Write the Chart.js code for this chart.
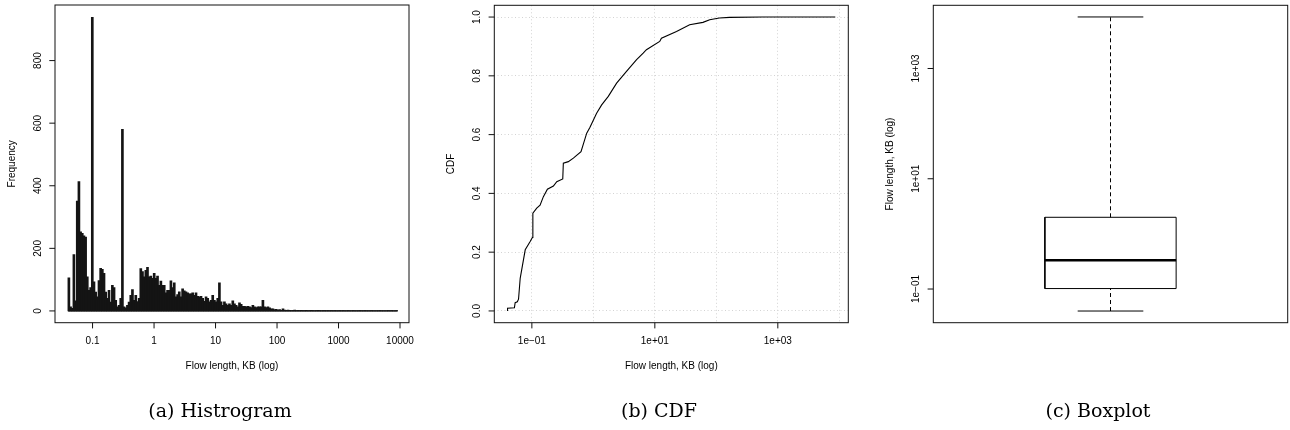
<!DOCTYPE html>
<html>
<head>
<meta charset="utf-8">
<title>Flow length distribution</title>
<script src="https://cdn.jsdelivr.net/npm/chart.js@4.4.1/dist/chart.umd.min.js"></script>
<style>
  body { margin: 0; background: #fff; }
  #wrap { position: relative; width: 1290px; height: 430px; overflow: hidden; }
  #wrap canvas { position: absolute; top: 0; }
  .caption {
    position: absolute; top: 399px; line-height: 22px;
    font-family: "DejaVu Serif", "Liberation Serif", serif; font-size: 19px;
    color: #000; white-space: nowrap; transform: translateX(-50%);
  }
</style>
</head>
<body>
<div id="wrap">
  <canvas id="histChart" width="430" height="430" style="left:0"></canvas>
  <canvas id="cdfChart" width="430" height="430" style="left:430px"></canvas>
  <canvas id="boxChart" width="430" height="430" style="left:860px"></canvas>
  <div class="caption" style="left:220px">(a) Histrogram</div>
  <div class="caption" style="left:659px">(b) CDF</div>
  <div class="caption" style="left:1098px">(c) Boxplot</div>
</div>
<script>
// histogram bins, log10(KB): centre of the first bin and bin width
const binStart = -1.385;
const binWidth = 0.0272;
const histCounts = [
  106, 13, 8, 180, 32, 351, 413, 253, 248, 240, 236, 109, 66, 75, 938, 93, 60, 45, 97, 136,
  133, 120, 60, 40, 66, 28, 82, 75, 34, 13, 18, 40, 580, 13, 10, 18, 28, 50, 68, 34,
  50, 30, 40, 135, 126, 109, 130, 139, 109, 111, 104, 120, 104, 111, 82, 95, 82, 82, 58, 66,
  66, 96, 75, 90, 45, 52, 61, 45, 71, 64, 61, 58, 55, 55, 58, 50, 58, 47, 45, 47,
  40, 31, 45, 40, 29, 34, 50, 34, 29, 40, 90, 29, 18, 29, 23, 18, 23, 18, 32, 23,
  18, 13, 26, 21, 15, 15, 13, 15, 13, 11, 18, 13, 11, 13, 13, 13, 34, 13, 11, 13,
  10, 7, 7, 4, 5, 3, 4, 2, 7, 3, 2, 3, 2, 1, 2, 3, 1, 2, 1, 2,
  1, 1, 2, 0, 1, 2, 1, 0, 1, 2, 1, 0, 1, 1, 0, 1, 0, 1, 0, 1,
  0, 0, 1, 0, 1, 0, 0, 1, 0, 0, 1, 0, 0, 0, 1, 0, 0, 1, 0, 0,
  0, 1, 0, 0, 0, 0, 1, 0, 0, 0, 0, 1, 0, 1, 0, 0, 1
];
const histTicks = [0.1, 1, 10, 100, 1000, 10000];
const freqTicks = [0, 200, 400, 600, 800];

// empirical CDF of flow length (KB)
const cdfLength = [
  0.0402, 0.0402, 0.052, 0.0535, 0.058, 0.0607, 0.0646, 0.078, 0.0938, 0.102,
  0.1038, 0.12, 0.136, 0.154, 0.179, 0.224, 0.254, 0.318, 0.325, 0.392,
  0.473, 0.63, 0.78, 0.882, 1.13, 1.365, 1.75, 2.39, 3.46, 5.05,
  6.46, 7.3, 12.0, 12.8, 22.5, 36.8, 60.6, 78, 112, 164,
  570, 8600
];
const cdfValue = [
  0.0, 0.009, 0.011, 0.028, 0.031, 0.04, 0.111, 0.208, 0.236, 0.25,
  0.333, 0.35, 0.36, 0.389, 0.414, 0.425, 0.44, 0.449, 0.503, 0.508,
  0.52, 0.542, 0.605, 0.625, 0.673, 0.701, 0.73, 0.775, 0.815, 0.855,
  0.877, 0.889, 0.917, 0.928, 0.951, 0.974, 0.982, 0.991, 0.997, 0.999,
  1.0, 1.0
];
const cdfTicks = [0.1, 10, 1000];
const cdfGrid = [0.1, 1, 10, 100, 1000, 10000];
const probTicks = [0, 0.2, 0.4, 0.6, 0.8, 1.0];

// boxplot: min, Q1, median, Q3, max (KB)
const boxStats = [0.0399, 0.102, 0.332, 2.0, 8600];
const boxTicks = [0.1, 10, 1000];

const axisMin = 0.0245;
const axisMax = 14000;
const boxHalf = 0.2;
const capHalf = 0.1;

const axisFont = '10px "Liberation Sans", Arial, sans-serif';

function sciLabel(v) {
  const e = Math.round(Math.log10(v));
  const pad = String(Math.abs(e)).padStart(2, '0');
  return '1e' + (e < 0 ? '\u2212' : '+') + pad;
}

// R-style frame, tick marks and labels drawn from the chart's scales
function rAxes(cfg) {
  return {
    id: 'rAxes',
    afterDraw(chart) {
      const ctx = chart.ctx;
      const area = chart.chartArea;
      const xs = chart.scales.x;
      const ys = chart.scales.y;
      ctx.save();
      ctx.strokeStyle = '#111';
      ctx.lineWidth = 1;
      ctx.strokeRect(area.left, area.top, area.right - area.left, area.bottom - area.top);
      ctx.fillStyle = '#000';
      ctx.font = axisFont;
      ctx.textAlign = 'center';
      ctx.textBaseline = 'middle';

      (cfg.xTicks || []).forEach((v) => {
        const px = xs.getPixelForValue(v);
        ctx.beginPath();
        ctx.moveTo(px, area.bottom);
        ctx.lineTo(px, area.bottom + 5.7);
        ctx.stroke();
        ctx.fillText(cfg.xLabel(v), px, area.bottom + 19);
      });
      if (cfg.xTitle) {
        ctx.fillText(cfg.xTitle, (area.left + area.right) / 2, area.bottom + 44);
      }

      cfg.yTicks.forEach((v) => {
        const py = ys.getPixelForValue(v);
        ctx.beginPath();
        ctx.moveTo(area.left, py);
        ctx.lineTo(area.left - 5.7, py);
        ctx.stroke();
        ctx.save();
        ctx.translate(area.left - 17.2, py);
        ctx.rotate(-Math.PI / 2);
        ctx.fillText(cfg.yLabel(v), 0, 0);
        ctx.restore();
      });
      ctx.save();
      ctx.translate(area.left - 42.7, (area.top + area.bottom) / 2);
      ctx.rotate(-Math.PI / 2);
      ctx.fillText(cfg.yTitle, 0, 0);
      ctx.restore();
      ctx.restore();
    }
  };
}

const baseOptions = {
  responsive: false,
  animation: false,
  events: [],
  plugins: { legend: { display: false }, tooltip: { enabled: false } }
};

// (a) histogram
const binCentres = histCounts.map((_, i) => Math.pow(10, binStart + i * binWidth));
const binLow = Math.pow(10, binStart - binWidth / 2);
const binHigh = Math.pow(10, binStart + (histCounts.length - 0.5) * binWidth);

new Chart(document.getElementById('histChart'), {
  type: 'bar',
  data: {
    datasets: [{
      data: histCounts.map((c, i) => ({ x: binCentres[i], y: c })),
      backgroundColor: '#141414',
      borderWidth: 0,
      barThickness: 2
    }, {
      type: 'line',
      data: [{ x: binLow, y: 0 }, { x: binHigh, y: 0 }],
      borderColor: '#000',
      borderWidth: 1.2,
      pointRadius: 0
    }]
  },
  options: {
    ...baseOptions,
    layout: { padding: { left: 55, right: 21, top: 5, bottom: 107.3 } },
    scales: {
      x: { type: 'logarithmic', display: false, offset: false, min: axisMin, max: axisMax },
      y: { type: 'linear', display: false, min: -37.6, max: 977.6 }
    }
  },
  plugins: [rAxes({
    xTicks: histTicks, xLabel: (v) => String(v), xTitle: 'Flow length, KB (log)',
    yTicks: freqTicks, yLabel: (v) => String(v), yTitle: 'Frequency'
  })]
});

// (b) CDF
new Chart(document.getElementById('cdfChart'), {
  type: 'scatter',
  data: {
    datasets: [{
      data: cdfLength.map((v, i) => ({ x: v, y: cdfValue[i] })),
      showLine: true,
      borderColor: '#000',
      borderWidth: 1.1,
      pointRadius: 0,
      tension: 0
    }]
  },
  options: {
    ...baseOptions,
    layout: { padding: { left: 64.3, right: 11.7, top: 5.3, bottom: 107.3 } },
    scales: {
      x: {
        type: 'logarithmic', min: axisMin, max: axisMax,
        afterBuildTicks: (s) => { s.ticks = cdfGrid.map((v) => ({ value: v })); },
        ticks: { display: false },
        grid: { color: '#d3d3d3', lineWidth: 1, drawTicks: false },
        border: { display: false, dash: [1, 2.5] }
      },
      y: {
        type: 'linear', min: -0.04, max: 1.04,
        afterBuildTicks: (s) => { s.ticks = probTicks.map((v) => ({ value: v })); },
        ticks: { display: false },
        grid: { color: '#d3d3d3', lineWidth: 1, drawTicks: false },
        border: { display: false, dash: [1, 2.5] }
      }
    }
  },
  plugins: [rAxes({
    xTicks: cdfTicks, xLabel: sciLabel, xTitle: 'Flow length, KB (log)',
    yTicks: probTicks, yLabel: (v) => v.toFixed(1), yTitle: 'CDF'
  })]
});

// (c) boxplot
const [bMin, bQ1, bMed, bQ3, bMax] = boxStats;
function seg(points, width, dash) {
  return {
    data: points.map(([x, y]) => ({ x, y })),
    showLine: true,
    borderColor: '#000',
    borderWidth: width,
    borderDash: dash || [],
    pointRadius: 0,
    tension: 0
  };
}

new Chart(document.getElementById('boxChart'), {
  type: 'scatter',
  data: {
    datasets: [
      seg([[1 - boxHalf, bQ1], [1 + boxHalf, bQ1], [1 + boxHalf, bQ3], [1 - boxHalf, bQ3], [1 - boxHalf, bQ1]], 1),
      seg([[1 - boxHalf, bMed], [1 + boxHalf, bMed]], 2.5),
      seg([[1, bQ3], [1, bMax]], 1, [4, 3]),
      seg([[1, bMin], [1, bQ1]], 1, [4, 3]),
      seg([[1 - capHalf, bMax], [1 + capHalf, bMax]], 1),
      seg([[1 - capHalf, bMin], [1 + capHalf, bMin]], 1)
    ]
  },
  options: {
    ...baseOptions,
    layout: { padding: { left: 73.3, right: 2.3, top: 5.3, bottom: 107.3 } },
    scales: {
      x: { type: 'linear', display: false, min: 0.46, max: 1.54 },
      y: { type: 'logarithmic', display: false, min: axisMin, max: axisMax }
    }
  },
  plugins: [rAxes({
    yTicks: boxTicks, yLabel: sciLabel, yTitle: 'Flow length, KB (log)'
  })]
});
</script>
</body>
</html>
